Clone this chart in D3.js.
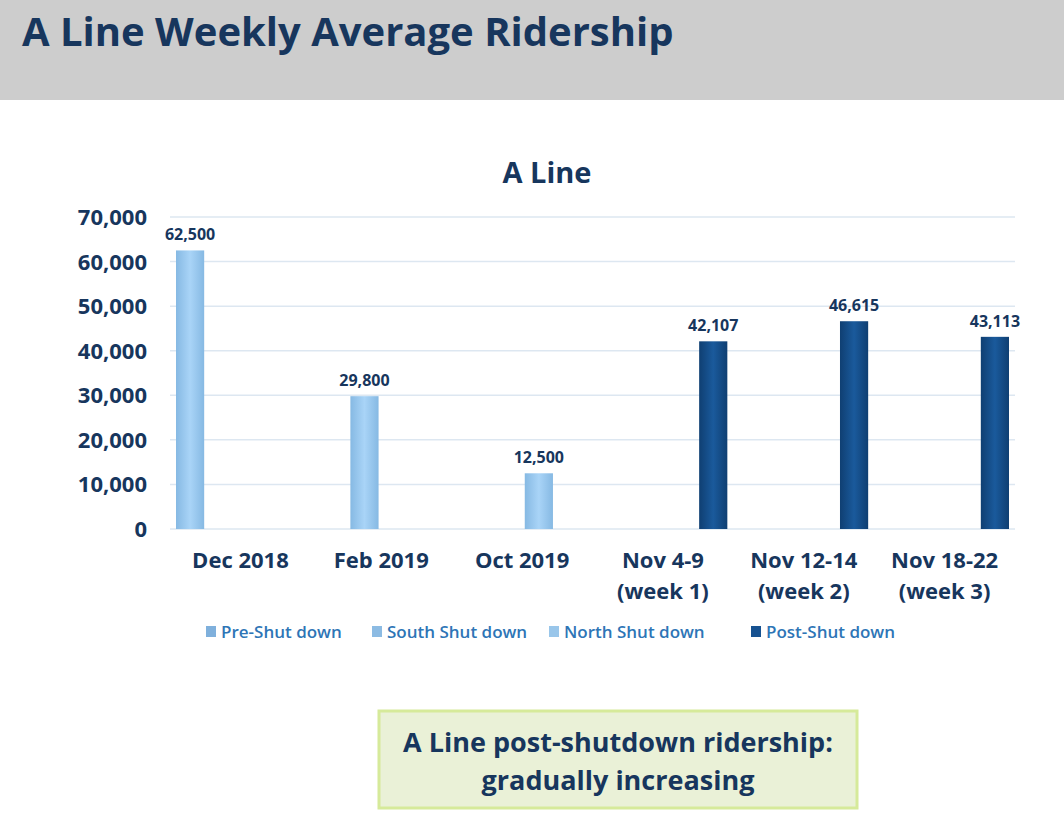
<!DOCTYPE html>
<html><head><meta charset="utf-8">
<script src="https://cdn.jsdelivr.net/npm/d3@7"></script>
<style>body{margin:0;background:#fff;font-family:"Open Sans",Lato,sans-serif}</style>
</head><body><svg id="c" width="1064" height="839"></svg>
<script>
const categories = [["Dec 2018"], ["Feb 2019"], ["Oct 2019"], ["Nov 4-9", "(week 1)"], ["Nov 12-14", "(week 2)"], ["Nov 18-22", "(week 3)"]];
const seriesNames = ["Pre-Shut down", "South Shut down", "North Shut down", "Post-Shut down"];
const preShut = [62500, 0, 0, 0, 0, 0];
const southShut = [0, 29800, 0, 0, 0, 0];
const northShut = [0, 0, 12500, 0, 0, 0];
const postShut = [0, 0, 0, 42107, 46615, 43113];
const yTicks = [0, 10000, 20000, 30000, 40000, 50000, 60000, 70000];

const seriesVals = [preShut, southShut, northShut, postShut];
const dark = "#17365d";
const svg = d3.select("#c");
svg.append("rect").attr("width", 1064).attr("height", 100).attr("fill", "#cdcdcd");
svg.append("text").attr("x", 22).attr("y", 46).attr("fill", dark).attr("font-size", 40).attr("font-weight", 700).text("A Line Weekly Average Ridership");
svg.append("text").attr("x", 547).attr("y", 183).attr("text-anchor", "middle").attr("fill", dark).attr("font-size", 29).attr("font-weight", 700).text("A Line");

const defs = svg.append("defs");
function grad(id, c1, c2) {
  const g = defs.append("linearGradient").attr("id", id);
  g.append("stop").attr("offset", "0").attr("stop-color", c2);
  g.append("stop").attr("offset", "0.5").attr("stop-color", c1);
  g.append("stop").attr("offset", "1").attr("stop-color", c2);
}
grad("gl", "#a9d4f7", "#86b9e3");
grad("gd", "#1a5a9c", "#0f3f72");
const fills = ["url(#gl)", "url(#gl)", "url(#gl)", "url(#gd)"];
const legendFills = ["#7fb0dc", "#8cbbe3", "#99c6ea", "#175291"];

const x = d3.scaleBand().domain(d3.range(categories.length)).range([170, 1015]);
const xi = d3.scaleBand().domain(d3.range(4)).range([6, x.bandwidth() - 6]).paddingInner(0.16);
const y = d3.scaleLinear().domain([0, 70000]).range([529, 217]);

svg.append("g").selectAll("line").data(yTicks).join("line")
  .attr("x1", 170).attr("x2", 1015).attr("y1", d => y(d)).attr("y2", d => y(d))
  .attr("stroke", "#dde7f1").attr("stroke-width", 1.5);
svg.append("g").selectAll("text").data(yTicks).join("text")
  .attr("x", 147).attr("y", d => y(d) + 8).attr("text-anchor", "end").attr("fill", dark)
  .attr("font-size", 22).attr("font-weight", 700).text(d => d3.format(",")(d));

seriesVals.forEach((vals, s) => {
  const g = svg.append("g");
  const pts = vals.map((v, i) => ({ v, i })).filter(d => d.v > 0);
  g.selectAll("rect").data(pts).join("rect")
    .attr("x", d => x(d.i) + xi(s)).attr("width", xi.bandwidth())
    .attr("y", d => y(d.v)).attr("height", d => y(0) - y(d.v)).attr("fill", fills[s]);
  g.selectAll("text").data(pts).join("text")
    .attr("x", d => x(d.i) + xi(s) + xi.bandwidth() / 2).attr("y", d => y(d.v) - 10)
    .attr("text-anchor", "middle").attr("fill", dark).attr("font-size", 16).attr("font-weight", 700)
    .text(d => d3.format(",")(d.v));
});

const xl = svg.append("g").selectAll("text").data(categories).join("text")
  .attr("x", (d, i) => x(i) + x.bandwidth() / 2).attr("y", 568).attr("text-anchor", "middle")
  .attr("fill", dark).attr("font-size", 22).attr("font-weight", 700);
xl.selectAll("tspan").data(d => d).join("tspan")
  .attr("x", function() { return this.parentNode.getAttribute("x"); })
  .attr("dy", (d, j) => j ? 31 : 0).text(d => d);

const legX = [206, 372, 549, 751];
seriesNames.forEach((n, i) => {
  svg.append("rect").attr("x", legX[i]).attr("y", 626).attr("width", 10).attr("height", 11).attr("fill", legendFills[i]);
  svg.append("text").attr("x", legX[i] + 15).attr("y", 638).attr("fill", "#2e75b6").attr("font-size", 17).attr("font-weight", 600).text(n);
});

svg.append("rect").attr("x", 379).attr("y", 711).attr("width", 478).attr("height", 97)
  .attr("fill", "#eaf1d7").attr("stroke", "#d6ea9a").attr("stroke-width", 3);
svg.append("text").attr("x", 618).attr("y", 752).attr("text-anchor", "middle").attr("fill", dark).attr("font-size", 27).attr("font-weight", 700).text("A Line post-shutdown ridership:");
svg.append("text").attr("x", 618).attr("y", 790).attr("text-anchor", "middle").attr("fill", dark).attr("font-size", 27).attr("font-weight", 700).text("gradually increasing");
</script></body></html>
